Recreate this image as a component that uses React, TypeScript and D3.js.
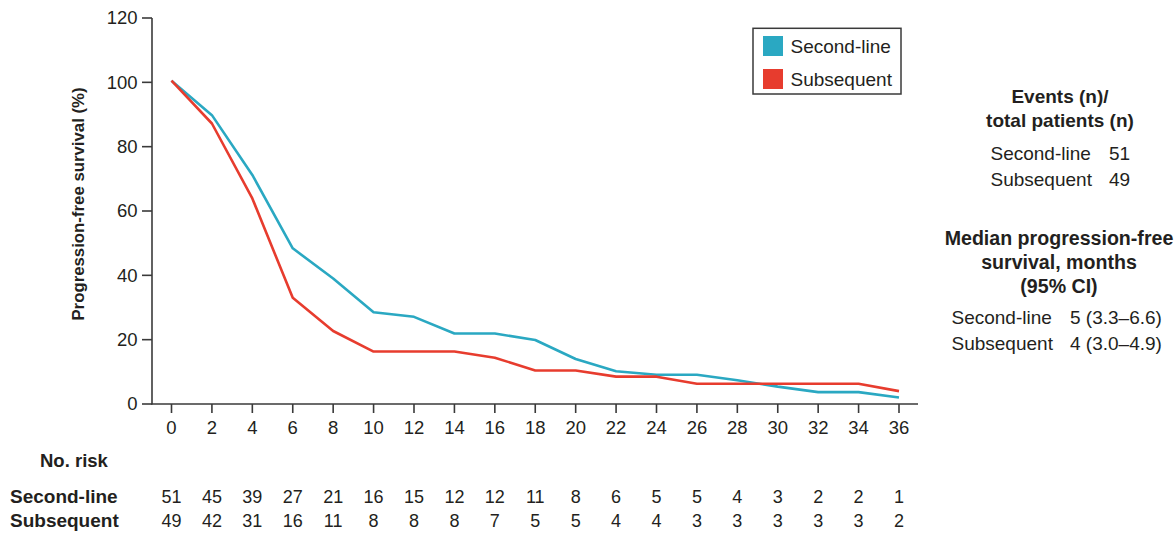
import React from "react";
import * as d3 from "d3";

const months = [0, 2, 4, 6, 8, 10, 12, 14, 16, 18, 20, 22, 24, 26, 28, 30, 32, 34, 36];
const secondLine = [100.5, 89.8, 71.2, 48.4, 39.0, 28.5, 27.1, 21.9, 21.9, 19.9, 14.0, 10.2, 9.1, 9.1, 7.4, 5.4, 3.7, 3.7, 2.0];
const subsequent = [100.5, 87.2, 63.9, 33.0, 22.7, 16.3, 16.3, 16.3, 14.4, 10.4, 10.4, 8.5, 8.5, 6.3, 6.3, 6.3, 6.3, 6.3, 4.0];
const riskSecond = [51, 45, 39, 27, 21, 16, 15, 12, 12, 11, 8, 6, 5, 5, 4, 3, 2, 2, 1];
const riskSubsequent = [49, 42, 31, 16, 11, 8, 8, 8, 7, 5, 5, 4, 4, 3, 3, 3, 3, 3, 2];
const yTicks = [0, 20, 40, 60, 80, 100, 120];
const seriesNames = ["Second-line", "Subsequent"];
const colors = ["#2aa8c2", "#e73c2e"];

const FONT = "'Liberation Sans', Arial, Helvetica, sans-serif";
const TXT = "#231f20";
const AX = "#3a3a3a";

export default function App() {
  const x = d3.scaleLinear().domain([0, 36]).range([171.5, 899]);
  const y = d3.scaleLinear().domain([0, 120]).range([404, 18]);
  const line = d3
    .line<[number, number]>()
    .x((d) => x(d[0]))
    .y((d) => y(d[1]));
  const series = [secondLine, subsequent];

  return (
    <svg
      width={1174}
      height={533}
      style={{ position: "absolute", left: 0, top: 0, background: "#fff" }}
      fontFamily={FONT}
    >
      {/* axes */}
      <line x1={152} x2={152} y1={18} y2={404.5} stroke={AX} strokeWidth={1.6} />
      <line x1={151.2} x2={918} y1={404} y2={404} stroke={AX} strokeWidth={1.6} />
      {yTicks.map((t) => (
        <g key={"y" + t}>
          <line x1={142} x2={152} y1={y(t)} y2={y(t)} stroke={AX} strokeWidth={1.6} />
          <text x={137.5} y={y(t)} dy="0.35em" textAnchor="end" fontSize={18.5} fill={TXT}>
            {t}
          </text>
        </g>
      ))}
      {months.map((m) => (
        <g key={"x" + m}>
          <line x1={x(m)} x2={x(m)} y1={404} y2={413} stroke={AX} strokeWidth={1.6} />
          <text x={x(m)} y={434} textAnchor="middle" fontSize={18.5} fill={TXT}>
            {m}
          </text>
        </g>
      ))}
      <text
        transform="translate(84,204) rotate(-90)"
        textAnchor="middle"
        fontSize={16.8}
        fontWeight="bold"
        fill={TXT}
      >
        Progression-free survival (%)
      </text>

      {/* lines */}
      {series.map((s, i) => (
        <path
          key={"s" + i}
          d={line(months.map((m, j) => [m, s[j]] as [number, number])) || ""}
          fill="none"
          stroke={colors[i]}
          strokeWidth={2.6}
          strokeLinejoin="round"
        />
      ))}

      {/* legend */}
      <rect x={753} y={28.3} width={148} height={65.7} fill="#fff" stroke={AX} strokeWidth={1.5} />
      {seriesNames.map((n, i) => (
        <g key={"l" + i}>
          <rect x={763} y={36 + i * 33} width={20} height={20} fill={colors[i]} />
          <text x={790.5} y={52.5 + i * 33} fontSize={19} fill={TXT}>
            {n}
          </text>
        </g>
      ))}

      {/* right annotations */}
      <g fill={TXT}>
        <text x={1060} y={103} textAnchor="middle" fontSize={19} fontWeight="bold">
          Events (n)/
        </text>
        <text x={1060} y={127} textAnchor="middle" fontSize={19} fontWeight="bold">
          total patients (n)
        </text>
        <text x={990.5} y={160} fontSize={19}>Second-line</text>
        <text x={1109} y={160} fontSize={19}>51</text>
        <text x={990.5} y={186} fontSize={19}>Subsequent</text>
        <text x={1109} y={186} fontSize={19}>49</text>

        <text x={1059} y={245} textAnchor="middle" fontSize={19.6} fontWeight="bold">
          Median progression-free
        </text>
        <text x={1059} y={269} textAnchor="middle" fontSize={19.6} fontWeight="bold">
          survival, months
        </text>
        <text x={1059} y={293} textAnchor="middle" fontSize={19.6} fontWeight="bold">
          (95% CI)
        </text>
        <text x={951.5} y={324} fontSize={19}>Second-line</text>
        <text x={1070} y={324} fontSize={19}>5 (3.3–6.6)</text>
        <text x={951.5} y={350} fontSize={19}>Subsequent</text>
        <text x={1070} y={350} fontSize={19}>4 (3.0–4.9)</text>
      </g>

      {/* risk table */}
      <g fill={TXT}>
        <text x={40} y={467} fontSize={18.5} fontWeight="bold">
          No. risk
        </text>
        <text x={10} y={503} fontSize={19} fontWeight="bold">
          Second-line
        </text>
        <text x={10} y={527} fontSize={19} fontWeight="bold">
          Subsequent
        </text>
        {months.map((m, j) => (
          <g key={"r" + m}>
            <text x={x(m)} y={503} textAnchor="middle" fontSize={18}>
              {riskSecond[j]}
            </text>
            <text x={x(m)} y={527} textAnchor="middle" fontSize={18}>
              {riskSubsequent[j]}
            </text>
          </g>
        ))}
      </g>
    </svg>
  );
}
